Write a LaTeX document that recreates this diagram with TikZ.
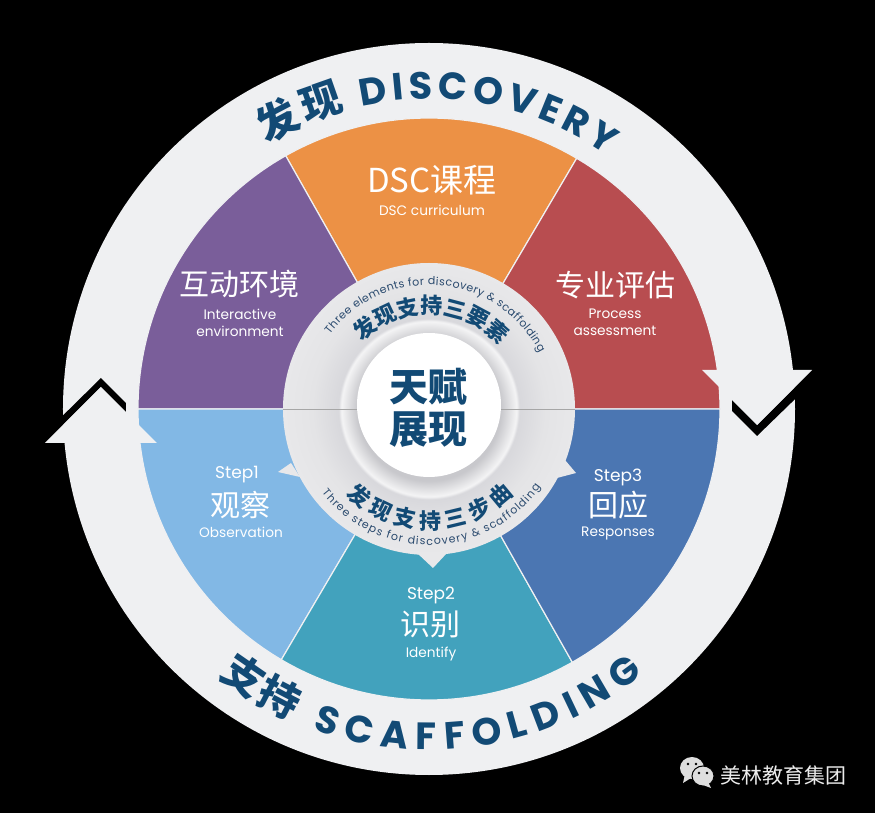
\documentclass[tikz,border=0pt]{standalone}
\usepackage{fontspec}
\usepackage{tikz}
\usetikzlibrary{positioning}
\usetikzlibrary{shapes.geometric}
\usetikzlibrary{decorations.text}
\setmainfont{Poppins}
\newfontfamily\cjkfont{Noto Sans CJK SC}
\newfontfamily\cjkblack{Noto Sans CJK SC Black}
\newfontfamily\ringfont{Poppins}
\definecolor{ringblue}{HTML}{124A75}
\definecolor{ringgrey}{HTML}{EFF0F2}
\definecolor{hubgrey}{HTML}{E8E8EA}
\definecolor{hubedge}{HTML}{E4E4E6}
\definecolor{hubdark}{HTML}{D8D8DC}
\definecolor{hublight}{HTML}{F4F4F5}
\definecolor{hubshade}{HTML}{C8C8CC}
\definecolor{inkblue}{HTML}{2A4A6E}
\definecolor{purplesec}{HTML}{7A5E9A}
\definecolor{orangesec}{HTML}{EC9145}
\definecolor{redsec}{HTML}{B84D50}
\definecolor{skysec}{HTML}{82B8E5}
\definecolor{tealsec}{HTML}{42A2BD}
\definecolor{bluesec}{HTML}{4B76B2}
\pgfdeclareradialshading{discshade}{\pgfpoint{0bp}{0bp}}{%
  color(0bp)=(hubshade); color(12.3bp)=(hubshade);
  color(15bp)=(hublight);
  color(15.5bp)=(hubdark);
  color(20bp)=(hubedge);
  color(25bp)=(hubgrey);
  color(50bp)=(hubgrey)}
\newcommand{\ringcjk}{\cjkblack\fontsize{41}{44}\selectfont\color{ringblue}}
\newcommand{\ringlat}{\ringfont\bfseries\fontsize{38}{44}\selectfont\color{ringblue}}
\newcommand{\hubcjk}{\cjkfont\bfseries\fontsize{22}{24}\selectfont\color{ringblue}}
\newcommand{\hublat}{\fontsize{11}{13}\selectfont\color{inkblue}}
\begin{document}
\begin{tikzpicture}[x=1pt,y=1pt,
                    title label/.style={font=\cjkfont\fontsize{30}{32}\selectfont,text=white,inner sep=0pt},
                    sub label/.style={font=\fontsize{13.7}{15}\selectfont,text=white,inner sep=0pt},
                    step label/.style={font=\fontsize{17}{19}\selectfont,text=white,inner sep=0pt},
                    hub label/.style={font=\cjkfont\bfseries\fontsize{39}{42}\selectfont,text=ringblue,inner sep=0pt},
                    arc text/.style 2 args={decorate,decoration={text along path,text align=fit to path,text={|#1|#2}}}]
                % page and ring
                \fill[black] (-429,-404) rectangle (446,409);
                \useasboundingbox (-429,-404) rectangle (446,409);
                \fill[ringgrey] (0,0) circle (366);
                % six sectors
                \foreach \from/\to/\col in {59.5/119.5/orangesec, 119.5/180/purplesec, 0/59.5/redsec,
                                            180/239.5/skysec, 239.5/299.5/tealsec, 299.5/360/bluesec}
                    \filldraw[fill=\col,draw=ringgrey,line width=1.2pt]
                        (0,0) -- (\from:291) arc (\from:\to:291) -- cycle;
                % chevrons and arrow heads of the ring
                \fill[black] (-328,31) -- (-303,6) -- (-303,-3) -- (-328,22) -- (-384,-34) -- (-394,-34) -- cycle;
                \fill[ringgrey] (-384,-34) -- (-328,22) -- (-272,-34) -- cycle;
                \fill[black] (328,-27) -- (303,-2) -- (303,9) -- (328,-16) -- (383,39) -- (396,39) -- cycle;
                \fill[ringgrey] (273,39) -- (328,-16) -- (383,39) -- cycle;
                % hub
                \fill[hubgrey]
                    (-151,-63) -- (-138,-54) -- (-129,-68) -- cycle
                    (147,-64) -- (136,-51) -- (128,-69) -- cycle
                    (4,-159) -- (-12,-144) -- (18,-144) -- cycle;
                \node[circle,minimum size=292pt,inner sep=0pt,shading=discshade] (disc) at (0,0) {};
                \node[circle,fill=white,minimum size=144pt,inner sep=0pt] (core) at (0,4) {};
                \coordinate (coreleft) at (-72,0);
                \coordinate (coreright) at (72,0);
                \draw[line width=.6pt,color=gray!70] (disc.west) -- (coreleft);
                \draw[line width=.6pt,color=gray!70] (coreright) -- (disc.east);
                \node[hub label] (hubtop) at (0,22) {天赋};
                \node[hub label] (hubbottom) [below of=hubtop,node distance=43pt] {展现};
                % ring titles
                \path[arc text={\ringcjk}{发现}] (121.5:311) arc (121.5:105.5:311);
                \path[arc text={\ringlat}{DISCOVERY}] (102.5:310) arc (102.5:55:310);
                \path[arc text={\ringcjk}{支持}] (231.8:340) arc (231.8:246:340);
                \path[arc text={\ringlat}{SCAFFOLDING}] (250:341) arc (250:309:341);
                % hub titles
                \path[arc text={\hubcjk}{发现支持三要素}] (135:95) arc (135:42:95);
                \path[arc text={\hublat}{Three elements for discovery {\&} scaffolding}] (143:124) arc (143:27:124);
                \path[arc text={\hubcjk}{发现支持三步曲}] (226:120) arc (226:315:120);
                \path[arc text={\hublat}{Three steps for discovery {\&} scaffolding}] (218:136) arc (218:325:136);
                % sector labels
                \node[title label,font=\cjkfont\fontsize{33}{36}\selectfont] (dsc) at (3,229) {DSC课程};
                \node[sub label] (dscen) [below of=dsc,node distance=30pt] {DSC curriculum};
                \node[title label] (env) at (-189,125) {互动环境};
                \node[sub label] (envone) [below of=env,node distance=30pt] {Interactive};
                \node[sub label] (envtwo) [below of=envone,node distance=17pt] {environment};
                \node[title label] (assess) at (186,124) {专业评估};
                \node[sub label] (assessone) [below of=assess,node distance=29pt] {Process};
                \node[sub label] (assesstwo) [below of=assessone,node distance=17pt] {assessment};
                \node[step label] (stepone) at (-192,-66) {Step1};
                \node[title label] (observe) [below of=stepone,node distance=30pt,xshift=4pt] {观察};
                \node[sub label] (observeen) [below of=observe,node distance=27pt] {Observation};
                \node[step label] (steptwo) at (2,-186) {Step2};
                \node[title label] (identify) [below of=steptwo,node distance=29pt] {识别};
                \node[sub label] (identifyen) [below of=identify,node distance=30pt] {Identify};
                \node[step label] (stepthree) at (189,-68) {Step3};
                \node[title label] (respond) [below of=stepthree,node distance=28pt] {回应};
                \node[sub label] (responden) [below of=respond,node distance=29pt] {Responses};
                % wechat mark
                \node[ellipse,fill=black!13,minimum width=24pt,minimum height=22pt,inner sep=0pt] (bubblea) at (263,-359) {};
                \fill[black!13] (256,-365) -- (254,-374) -- (262,-369) -- cycle;
                \node[ellipse,fill=black!13,draw=black,line width=1pt,minimum width=22pt,minimum height=20pt,inner sep=0pt] (bubbleb) at (274,-367) {};
                \fill[black!13] (279,-373) -- (282,-379) -- (274,-376) -- cycle;
                \foreach \dx/\dy in {259/-355, 267/-355, 270/-364, 278/-364}
                    \fill[black] (\dx,\dy) circle (1.3);
                \node[font=\cjkfont\fontsize{21}{24}\selectfont,text=black!8,inner sep=0pt] (brand) at (354,-366) {美林教育集团};
                \end{tikzpicture}
\end{document}
